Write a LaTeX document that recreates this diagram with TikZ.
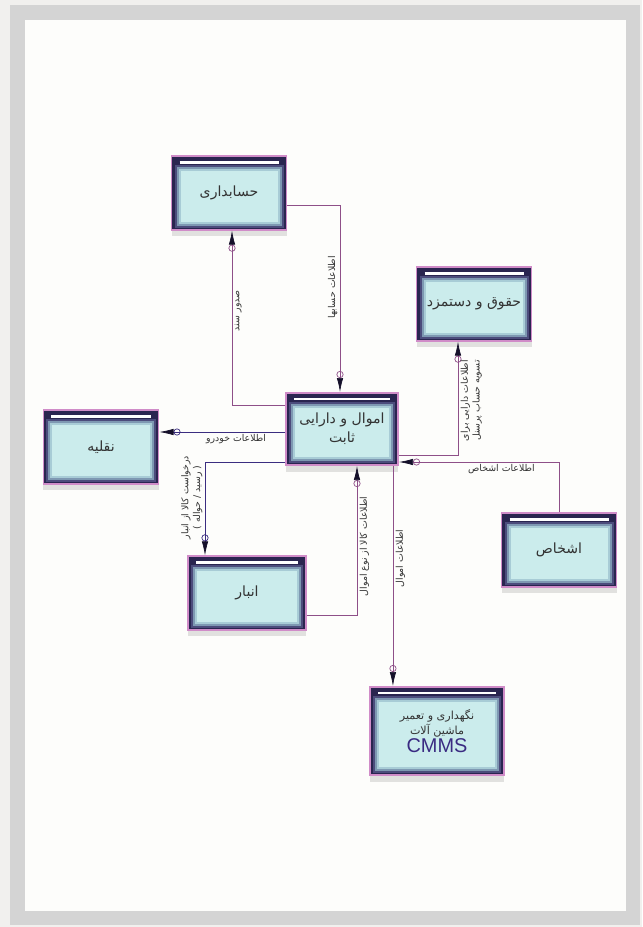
\documentclass[tikz,border=0pt]{standalone}
\usepackage{fontspec}
\setmainfont{Liberation Sans}
\newfontfamily\farsi[Script=Arabic]{DejaVu Sans}
\TeXXeTstate=1
\usetikzlibrary{arrows.meta,calc,shadows}

\definecolor{pagebg}{HTML}{F1F0EE}
\definecolor{framegray}{HTML}{D4D4D4}
\definecolor{paper}{HTML}{FDFDFB}
\definecolor{boxedge}{HTML}{D08CC8}
\definecolor{boxdark}{HTML}{2A2550}
\definecolor{boxmid}{HTML}{4C4C7C}
\definecolor{boxsoft}{HTML}{7E98B2}
\definecolor{boxpale}{HTML}{A8CCD6}
\definecolor{boxlight}{HTML}{CBECEC}
\definecolor{flowline}{HTML}{8E4F88}
\definecolor{flowdark}{HTML}{3B2D80}
\definecolor{tipcol}{HTML}{15102A}
\definecolor{cmmsblue}{HTML}{3A2B82}

\newcommand{\fa}[1]{{\farsi\beginR #1\endR}}

\tikzset{
  entity/.style={draw=boxedge, line width=1.6pt, fill=boxdark,
    minimum width=3.45cm, minimum height=2.2cm, inner sep=2pt, align=center,
    text=black!80, font=\fontsize{12}{16}\selectfont,
    drop shadow={shadow xshift=0cm, shadow yshift=-0.2cm, opacity=0.22},
    path picture={
      \path (path picture bounding box.north west) coordinate (tl)
            (path picture bounding box.south east) coordinate (br);
      \fill[boxmid]   ($(tl)+(3,9)$) rectangle ($(br)+(-3,-2)$);
      \fill[boxsoft]  ($(tl)+(5,11)$) rectangle ($(br)+(-5,-4)$);
      \fill[boxpale]  ($(tl)+(7,13)$) rectangle ($(br)+(-7,-6)$);
      \fill[boxlight] ($(tl)+(9,15)$) rectangle ($(br)+(-9,-8)$);
      \draw[white, line width=2pt] ($(tl)+(8,6)$) -- ($(br |- tl)+(-8,6)$);
    }},
  flow/.style={draw=flowline, line width=0.6pt,
    -{Circle[open,length=6pt,width=6pt,sep=0pt] Latex[length=12pt,width=5.5pt,color=tipcol]}},
  flowlabel/.style={font=\farsi\fontsize{8}{10}\selectfont, text=black!80,
    align=center, inner sep=2pt}
}

\begin{document}
\begin{tikzpicture}[x=0.03cm, y=-0.03cm]
  % page and frame
  \fill[pagebg] (0,0) rectangle (642,927);
  \fill[framegray] (10,5) rectangle (640,925);
  \fill[paper] (25,20) rectangle (626,911);
  \useasboundingbox (0,0) rectangle (642,927);

  % boxes
  \node[entity] (hesab) at (229,193) {\fa{حسابداری}};
  \node[entity] (hoghugh) at (474,304) {\fa{حقوق و دستمزد}};
  \node[entity, minimum width=3.36cm, minimum height=2.16cm] (amval) at (342,429)
    {\fa{اموال و دارایی}\\\fa{ثابت}};
  \node[entity] (naghlie) at (101,447) {\fa{نقلیه}};
  \node[entity, minimum width=3.54cm] (anbar) at (247,593) {\fa{انبار}};
  \node[entity] (ashkhas) at (559,550) {\fa{اشخاص}};
  \node[entity, minimum width=4cm, minimum height=2.64cm,
    font=\fontsize{9.5}{13}\selectfont] (cmms) at (437,731)
    {\fa{نگهداری و تعمیر}\\\fa{ماشین  آلات}\\{\fontsize{17}{20}\selectfont\color{cmmsblue}CMMS}};

  \coordinate (amvalout) at ($(amval.south east)+(-6,0)$);

  % flows
  \draw[flow] ($(hesab.east)+(0,12)$) -| ($(amval.north)+(-2,0)$)
    node[flowlabel, rotate=90, anchor=south, pos=.72] (lblhesab) {\fa{اطلاعات حسابها}};
  \draw[flow] ($(amval.west)+(0,-24)$) -| ($(hesab.south)+(3,0)$)
    node[flowlabel, rotate=90, anchor=north, pos=.77] (lblsanad) {\fa{صدور سند}};
  \draw[flow, draw=flowdark] ($(amval.west)+(0,3)$) -- ($(naghlie.east |- amval.west)+(0,3)$)
    node[flowlabel, below, pos=.39] (lblkhodro) {\fa{اطلاعات خودرو}};
  \draw[flow, draw=flowdark] ($(amval.west)+(0,33)$) -| ($(anbar.north)+(-42,0)$)
    node[flowlabel, rotate=90, anchor=south, pos=.69] (lbldarkhast)
    {\fa{درخواست کالا از انبار}\\\fa{( رسید / حواله )}};
  \draw[flow] ($(anbar.east)+(0,22)$) -| ($(amval.south)+(15,0)$)
    node[flowlabel, rotate=90, anchor=north, pos=.73] (lblkala) {\fa{اطلاعات کالا از نوع اموال}};
  \draw[flow] (amvalout) -- (amvalout |- cmms.north)
    node[flowlabel, rotate=90, anchor=north, pos=.42] (lblamval) {\fa{اطلاعات  اموال}};
  \draw[flow] (ashkhas.north) |- ($(amval.east)+(0,33)$)
    node[flowlabel, below, pos=.68] (lblashkhas) {\fa{اطلاعات اشخاص}};
  \draw[flow] ($(amval.east)+(0,26)$) -| ($(hoghugh.south)+(-16,0)$)
    node[flowlabel, rotate=90, anchor=north, pos=.74] (lblhoghugh)
    {\fa{اطلاعات دارایی برای}\\\fa{تسویه حساب پرسنل}};
\end{tikzpicture}
\end{document}
